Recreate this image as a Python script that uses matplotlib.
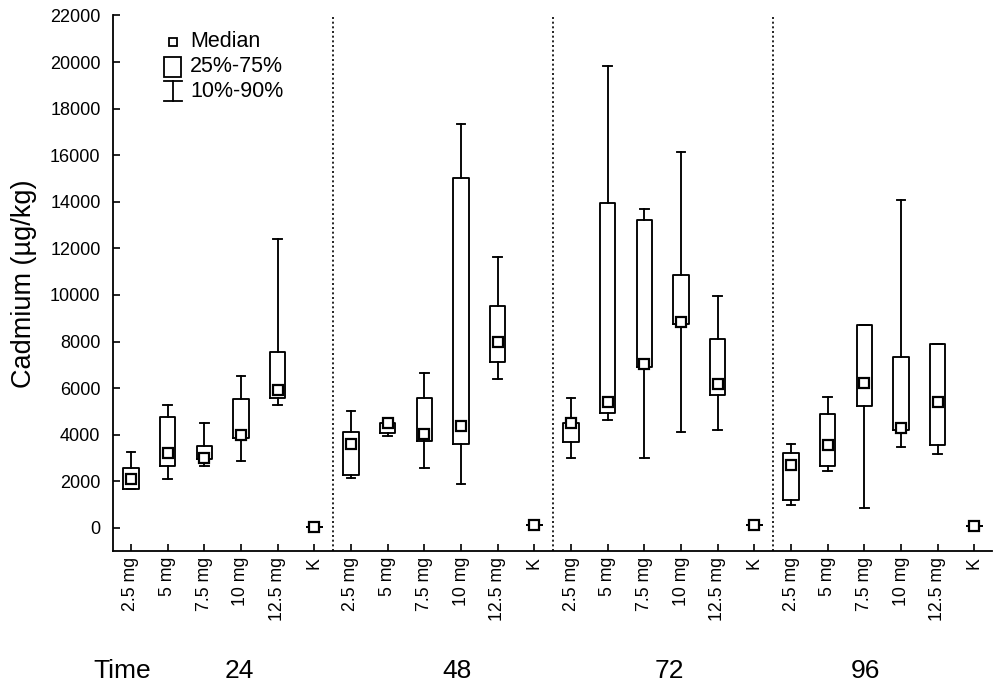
import matplotlib
matplotlib.use("Agg")
import matplotlib.pyplot as plt
from matplotlib.patches import Rectangle
from matplotlib.lines import Line2D
import matplotlib.transforms as mtransforms

plt.rcParams['font.family'] = ['Liberation Sans', 'DejaVu Sans']

times = ['24', '48', '72', '96']
doses = ['2.5 mg', '5 mg', '7.5 mg', '10 mg', '12.5 mg', 'K']

# per group: 10%, 25%, median, 75%, 90%
p10 = [1680, 2090, 2660, 2850, 5260, 30,
       2150, 3950, 2550, 1860, 6370, 100,
       3000, 4650, 2990, 4110, 4220, 100,
       990, 2420, 860, 3490, 3170, 60]
q25 = [1680, 2650, 2940, 3850, 5570, 30,
       2250, 4060, 3710, 3590, 7140, 100,
       3680, 4920, 6910, 8750, 5720, 100,
       1190, 2660, 5250, 4190, 3550, 60]
med = [2100, 3230, 3000, 4000, 5910, 30,
       3600, 4520, 4020, 4370, 7970, 100,
       4480, 5390, 7050, 8850, 6190, 100,
       2710, 3550, 6220, 4290, 5390, 60]
q75 = [2570, 4770, 3510, 5510, 7540, 30,
       4110, 4490, 5570, 15030, 9510, 100,
       4490, 13950, 13200, 10850, 8120, 100,
       3220, 4880, 8690, 7320, 7910, 60]
p90 = [3260, 5280, 4480, 6540, 12420, 30,
       5000, 4490, 6630, 17340, 11620, 100,
       5590, 19830, 13690, 16150, 9970, 100,
       3590, 5620, 8690, 14060, 7910, 60]

yticks = list(range(0, 22001, 2000))

fig = plt.figure(figsize=(10, 6.88), dpi=100)
ax = fig.add_axes([0.113, 0.199, 0.879, 0.7785])

stats = []
for i in range(len(med)):
    stats.append(dict(whislo=p10[i], q1=q25[i], med=med[i], q3=q75[i],
                      whishi=p90[i], mean=med[i], fliers=[]))
positions = list(range(len(med)))
lw = 1.35
ax.bxp(stats, positions=positions, widths=0.42, showmeans=True,
       showfliers=False,
       boxprops=dict(color='black', linewidth=lw),
       whiskerprops=dict(color='black', linewidth=lw),
       capprops=dict(color='black', linewidth=lw),
       capwidths=0.24,
       medianprops=dict(linestyle='none', linewidth=0),
       meanprops=dict(marker='s', markerfacecolor='white',
                      markeredgecolor='black', markersize=6.8,
                      markeredgewidth=1.6, linestyle='none'),
       zorder=3)

# group dividers
ng = len(doses)
for g in range(1, len(times)):
    ax.axvline(g * ng - 0.5, color='black', linewidth=1.2,
               linestyle=(0, (1.2, 1.6)), zorder=1)

ax.set_xlim(-0.49, 23.48)
ax.set_ylim(-1000, 22000)
ax.set_yticks(yticks)
ax.set_yticklabels([str(v) for v in yticks], fontsize=13)
ax.set_xticks(positions)
ax.set_xticklabels(doses * len(times), rotation=90, fontsize=12.8,
                   va='top', ha='center')
ax.tick_params(axis='both', direction='in', length=5, width=1.2,
               color='black')
ax.tick_params(axis='y', pad=9)
ax.tick_params(axis='x', pad=4)
for s in ['top', 'right']:
    ax.spines[s].set_visible(False)
for s in ['left', 'bottom']:
    ax.spines[s].set_linewidth(1.3)
ax.set_ylabel('Cadmium (µg/kg)', fontsize=19.5, labelpad=9)

# Time labels below
trans = mtransforms.blended_transform_factory(ax.transData, fig.transFigure)
time_pos = [2.96, 8.89, 14.67, 20.03]
for t, xp in zip(times, time_pos):
    ax.text(xp, 1 - 671 / 688, t, transform=trans, ha='center',
            va='center', fontsize=19)
fig.text(0.122, 1 - 671 / 688, 'Time', ha='center', va='center',
         fontsize=19)

# legend (drawn in axes fraction)
T = ax.transAxes
ax.add_line(Line2D([0.0679], [0.951], marker='s', markerfacecolor='white',
                   markeredgecolor='black', markersize=6.2,
                   markeredgewidth=1.3, transform=T))
ax.add_patch(Rectangle((0.058, 0.885), 0.0193, 0.0373, fill=False,
                       edgecolor='black', linewidth=1.3, transform=T))
ax.add_line(Line2D([0.0679, 0.0679], [0.840, 0.878], color='black',
                   linewidth=1.3, transform=T))
ax.add_line(Line2D([0.058, 0.078], [0.840, 0.840], color='black',
                   linewidth=1.3, transform=T))
ax.add_line(Line2D([0.058, 0.078], [0.878, 0.878], color='black',
                   linewidth=1.3, transform=T))
ax.text(0.0876, 0.951, 'Median', transform=T, va='center', ha='left',
        fontsize=15.5)
ax.text(0.0876, 0.904, '25%-75%', transform=T, va='center', ha='left',
        fontsize=15.5)
ax.text(0.0876, 0.859, '10%-90%', transform=T, va='center', ha='left',
        fontsize=15.5)

fig.savefig('out.png', dpi=100)
